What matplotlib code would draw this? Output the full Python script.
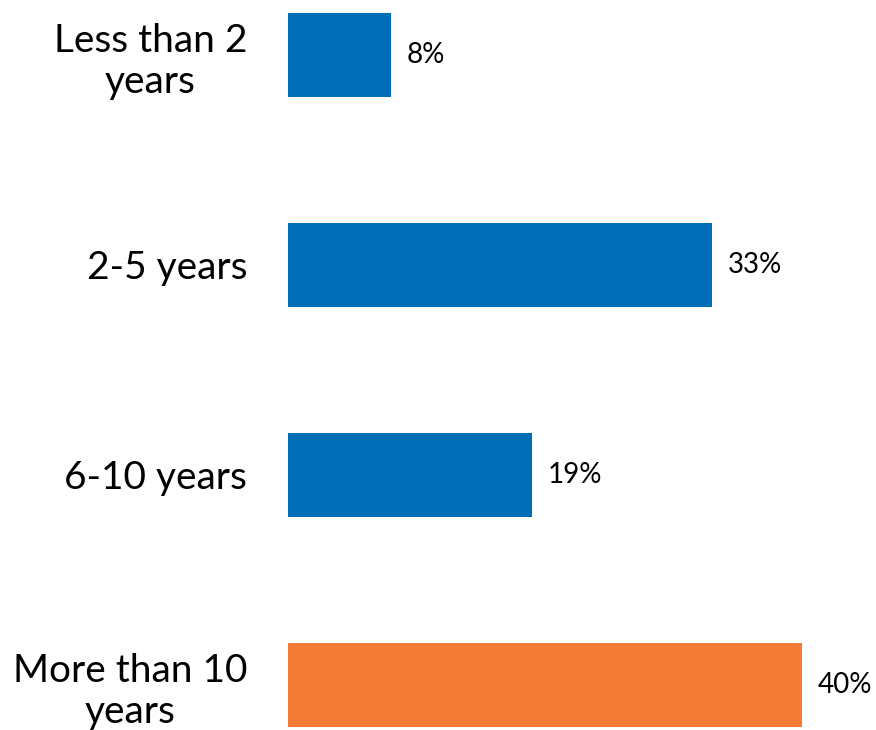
import matplotlib
matplotlib.use('Agg')
import matplotlib.pyplot as plt

# Data
categories = ['Less than 2\nyears', '2-5 years', '6-10 years', 'More than 10\nyears']
values = [8, 33, 19, 40]
colors = ['#006EB6', '#006EB6', '#006EB6', '#F47B35']

plt.rcParams['font.family'] = ['Lato', 'DejaVu Sans']

fig = plt.figure(figsize=(8.76, 7.3), dpi=100)
ax = fig.add_axes([288 / 876, 0, 1 - 288 / 876, 1])

positions = list(range(len(categories)))
bars = ax.barh(positions, values, height=0.4, color=colors)

# Value labels to the right of each bar
for bar, val in zip(bars, values):
    ax.annotate(f'{val}%', xy=(bar.get_width(), bar.get_y() + bar.get_height() / 2),
                xytext=(11.5, 0), textcoords='offset points',
                ha='left', va='center', fontsize=20, color='black')

ax.set_yticks(positions)
ax.set_yticklabels(categories, fontsize=28, linespacing=1.2)
for lbl in ax.get_yticklabels():
    lbl.set_multialignment('center')
ax.tick_params(axis='y', length=0, pad=29.5)

ax.set_xlim(0, 588 / 12.85)
ax.set_ylim(3 + 45 / 210, -55 / 210)
ax.set_xticks([])
for spine in ax.spines.values():
    spine.set_visible(False)

plt.savefig('out.png', dpi=100)
plt.close()
